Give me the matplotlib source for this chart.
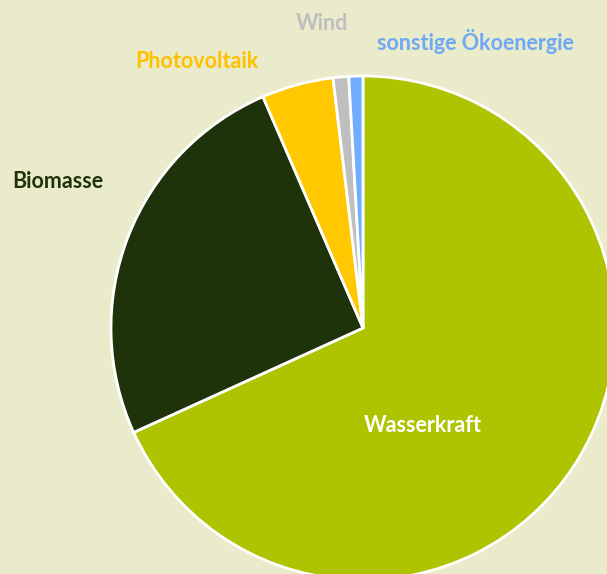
import matplotlib.pyplot as plt

# Anteile Ökostrom (Prozent), im Uhrzeigersinn ab 12 Uhr
labels = ["Wasserkraft", "Biomasse", "Photovoltaik", "Wind", "sonstige Ökoenergie"]
shares = [68.2, 25.3, 4.6, 1.0, 0.9]
colors = ["#AEC400", "#1F330B", "#FFC800", "#BFBFBF", "#70ADFF"]
label_colors = ["#FFFFFF", "#1F330B", "#FFC000", "#BFBFBF", "#6FA8F5"]
label_pos = [(423, 148), (58, 393), (197, 513), (322, 551), (475, 532)]

plt.rcParams['font.family'] = ['Lato', 'DejaVu Sans']

fig = plt.figure(figsize=(6.07, 5.74), dpi=100)
fig.patch.set_facecolor("#EAEBCB")
ax = fig.add_axes([0, 0, 1, 1])
ax.set_facecolor("#EAEBCB")

ax.pie(shares, colors=colors, startangle=90, counterclock=False,
       center=(363, 246), radius=252,
       wedgeprops=dict(edgecolor="white", linewidth=2))

for text, col, (x, y) in zip(labels, label_colors, label_pos):
    ax.text(x, y, text, color=col, fontsize=15.5, fontweight="bold",
            ha="center", va="center")

ax.set_xlim(0, 607)
ax.set_ylim(0, 574)
ax.set_aspect("equal")
ax.axis("off")

fig.savefig("out.png", dpi=100, facecolor=fig.get_facecolor())
